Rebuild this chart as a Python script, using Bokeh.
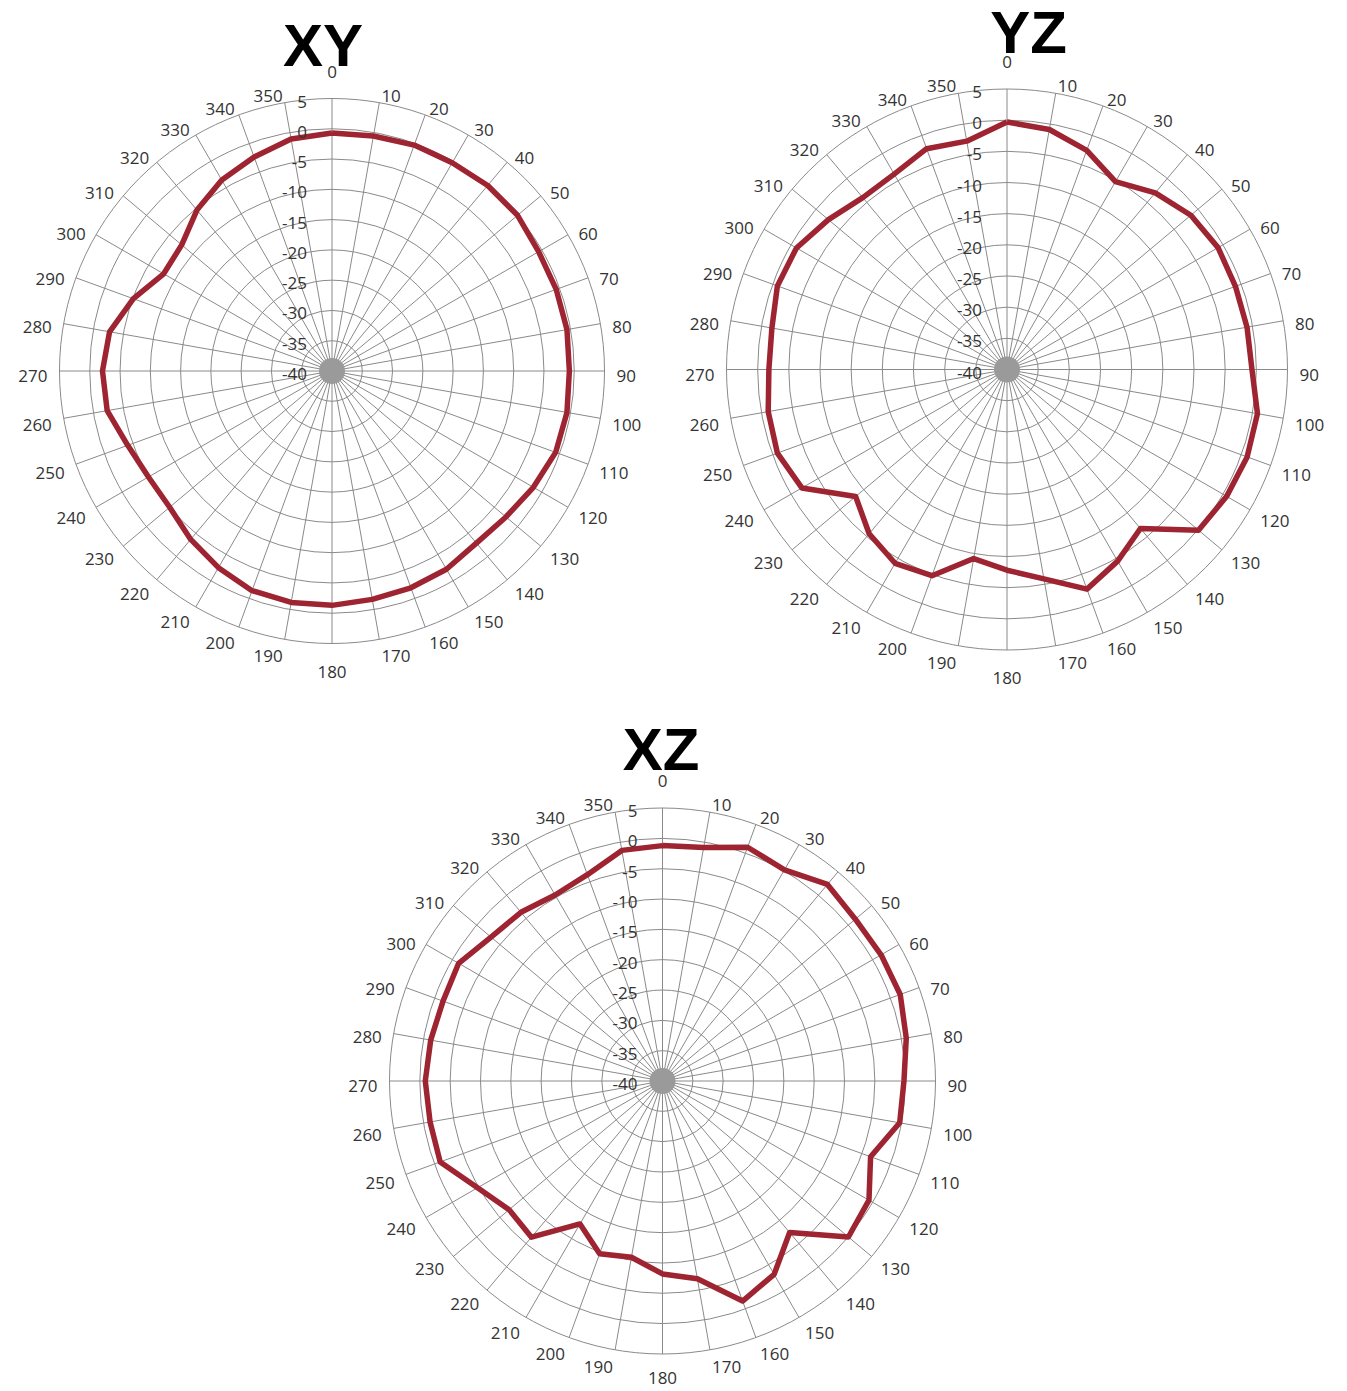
import math
from bokeh.plotting import figure
from bokeh.layouts import column, row
from bokeh.models import Range1d, Spacer, ColumnDataSource
from bokeh.core.properties import value, field
from bokeh.embed import file_html
from bokeh.resources import INLINE

# ---------------- data ----------------
ANGLES = list(range(0, 360, 10))
ANGLE_LABELS = [str(a) for a in ANGLES]
RADIAL_TICKS = [5, 0, -5, -10, -15, -20, -25, -30, -35, -40]
RADIAL_LABELS = [str(t) for t in RADIAL_TICKS]
DB_MIN, DB_MAX = -40, 5
TITLES = ["XY", "YZ", "XZ"]

XY_DB = [-0.7, -0.6, -0.3, -0.3, 0.0, 0.0, -0.6, -0.6, -0.6, -0.8, -0.6, -0.7,
         -1.6, -2.5, -2.9, -2.2, -1.9, -1.7, -1.3, -1.2, -1.4, -2.5, -3.7, -5.0,
         -5.0, -4.1, -2.3, -2.1, -2.7, -5.1, -7.9, -7.6, -5.3, -3.6, -2.4, -1.1]

YZ_DB = [-0.3, -0.9, -2.6, -5.2, -3.0, -1.5, -0.9, -1.0, -0.9, -0.7, 0.8, 1.0,
         0.7, 0.1, -6.7, -4.5, -2.5, -5.9, -7.8, -9.2, -4.8, -4.1, -5.6, -8.3,
         -2.0, -0.8, -1.1, -1.8, -1.7, -0.8, -1.0, -2.6, -4.0, -3.8, -2.3, -2.8]

XZ_DB = [-1.2, -0.9, 1.0, 0.2, 2.3, 1.5, 1.6, 1.7, 0.8, -0.2, -0.3, -3.5,
         -0.7, 0.0, -7.4, -3.2, -1.4, -6.9, -8.2, -10.5, -9.7, -12.8, -6.4, -7.0,
         -4.8, -1.0, -1.1, -0.9, -1.2, -1.5, -1.2, -3.1, -3.7, -4.6, -3.8, -1.4]

# ---------------- style ----------------
GRID_COLOR = "#8a8a8a"
LINE_COLOR = "#9e2432"
TEXT_COLOR = "#333333"
LABEL_FONT = "Open Sans"
TITLE_FONT = "Liberation Sans"


def make_chart(title, data, left, top, w, h, cx, cy, R, tx, ty, bottom_gap):
    fx, fy = cx - left, cy - top
    span = DB_MAX - DB_MIN
    s = R / span  # px per dB
    p = figure(width=w, height=h, output_backend="svg", toolbar_location=None,
               x_range=Range1d(-fx / s, (w - fx) / s),
               y_range=Range1d(-(h - fy) / s, fy / s),
               x_axis_location=None, y_axis_location=None, min_border=0)
    p.xgrid.grid_line_color = None
    p.ygrid.grid_line_color = None
    p.outline_line_color = None
    p.background_fill_color = "white"
    p.border_fill_color = "white"

    # rings
    radii = [t - DB_MIN for t in RADIAL_TICKS if t > DB_MIN]
    p.circle(x=[0] * len(radii), y=[0] * len(radii), radius=radii,
             fill_color=None, line_color=GRID_COLOR, line_width=1)
    # spokes
    xs, ys = [], []
    for a in ANGLES:
        t = math.radians(a)
        xs.append([0, span * math.sin(t)])
        ys.append([0, span * math.cos(t)])
    p.multi_line(xs=xs, ys=ys, line_color=GRID_COLOR, line_width=1)
    # dense centre
    p.circle(x=[0], y=[0], radius=13 / s, fill_color="#9a9a9a", line_color=None)

    # data
    px, py = [], []
    for a, v in zip(ANGLES, data):
        t = math.radians(a)
        r = v - DB_MIN
        px.append(r * math.sin(t))
        py.append(r * math.cos(t))
    px.append(px[0])
    py.append(py[0])
    p.line(px, py, line_color=LINE_COLOR, line_width=5.5, line_join="round")

    # angle labels
    lx, ly, la, lb = [], [], [], []
    for a in ANGLES:
        t = math.radians(a)
        sx, sy = math.sin(t), math.cos(t)
        if a == 0:
            lx.append(0); ly.append(span + 21 / s); la.append("center"); lb.append("bottom")
        elif a == 180:
            lx.append(0); ly.append(-span - bottom_gap / s); la.append("center"); lb.append("middle")
        else:
            lx.append(span * sx + 12 / s * sx)
            ly.append(span * sy + 12 / s * sy - 5 / s)
            la.append("left" if sx > 0 else "right")
            lb.append("middle")
    src = ColumnDataSource(dict(x=lx, y=ly, text=ANGLE_LABELS, align=la, base=lb))
    p.text(x="x", y="y", text="text", source=src, text_align=field("align"),
           text_baseline=field("base"), text_font=value(LABEL_FONT),
           text_font_size="17px", text_color=TEXT_COLOR)

    # radial labels
    rx = [-25 / s] * len(RADIAL_TICKS)
    ry = [t - DB_MIN - 3 / s for t in RADIAL_TICKS]
    p.text(x=rx, y=ry, text=RADIAL_LABELS, text_align="right",
           text_baseline="middle", text_font=value(LABEL_FONT),
           text_font_size="17px", text_color=TEXT_COLOR)

    # title
    p.text(x=[(tx - cx) / s], y=[(cy - ty) / s], text=[title],
           text_font=value(TITLE_FONT), text_font_style="bold",
           text_font_size="60px", text_align="center",
           text_baseline="middle", text_color="black")
    return p


f1 = make_chart(TITLES[0], XY_DB, 0, 0, 672, 708, 331.5, 370.5, 272.5, 322.5, 45, 28)
f2 = make_chart(TITLES[1], YZ_DB, 672, 0, 675, 708, 1006.5, 369, 280.5, 1028, 31.5, 28)
f3 = make_chart(TITLES[2], XZ_DB, 300, 708, 720, 683, 662, 1080.5, 273, 660.5, 748.5, 24)

layout = column(row(f1, f2, spacing=0), row(Spacer(width=300, height=683), f3, spacing=0), spacing=0)

open("out.html", "w").write(file_html(layout, INLINE))
